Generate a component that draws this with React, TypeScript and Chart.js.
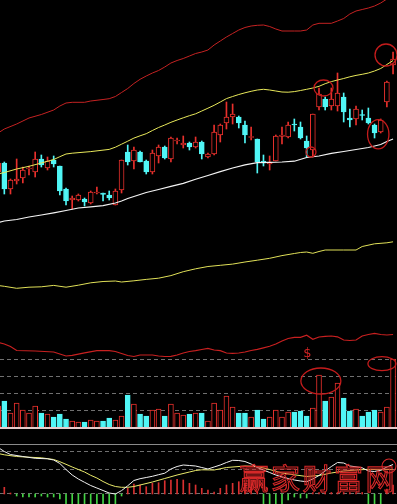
import React, { useEffect, useRef } from 'react';
import { Chart, registerables } from 'chart.js';

Chart.register(...registerables);

// ---------- candles (index 0..64) ----------
const openP = [42.8,43.7,41.1,41.9,42.2,43.1,42.8,44.1,43.2,44.0, 43.4,41.1,40.0,40.0,40.1,39.7,40.7,40.7,40.5,39.5, 41.0,44.8,43.9,44.8,43.9,42.8,44.4,45.3,44.1,45.9, 45.5,45.7,45.3,45.8,44.3,44.6,46.5,47.7,48.3,48.3, 47.5,46.25,46.1,43.9,43.6,43.9,46.35,46.3,47.6,47.3, 45.9,45.0,49.3,50.1,49.4,49.4,50.3,48.2,48.1,48.55, 48.2,47.5,46.8,49.8,53.5];
const highP = [44.0,43.8,42.1,44.1,43.3,43.4,44.8,44.5,44.3,44.4, 43.4,41.2,40.4,40.6,40.2,40.9,41.3,40.7,40.9,41.1, 44.0,45.5,45.3,44.9,44.0,45.0,45.5,45.4,46.3,46.2, 46.4,45.8,46.3,45.9,44.7,47.5,47.6,49.8,49.6,48.4, 47.9,47.3,46.1,44.5,44.4,46.5,47.3,47.8,48.1,47.8, 46.4,48.6,51.2,50.3,51.2,52.7,50.7,49.1,49.4,49.0, 49.2,47.6,48.1,51.9,54.8];
const lowP = [42.5,40.6,40.6,41.6,41.7,42.5,42.3,43.3,43.0,43.3, 40.5,39.5,39.1,39.9,39.4,39.6,40.6,39.9,40.0,39.5, 40.7,43.5,43.1,43.8,42.6,42.6,43.7,44.1,43.8,45.6, 45.2,45.0,45.2,44.1,44.2,44.5,45.8,47.1,47.6,47.2, 45.7,46.0,42.7,43.4,43.0,43.9,45.6,46.2,46.9,46.1, 44.3,44.3,49.0,49.0,49.0,48.9,47.8,47.3,47.5,48.0, 47.6,46.2,46.7,49.3,52.6];
const closeP = [43.7,41.1,42.0,42.1,43.0,43.2,44.1,43.5,43.9,43.6, 40.9,39.9,40.2,40.5,39.8,40.8,40.8,40.55,40.2,40.9, 44.0,43.8,45.0,43.8,42.8,44.7,45.3,44.2,46.2,46.0, 45.7,45.3,45.8,44.6,44.6,46.8,47.5,48.3,48.6,47.7, 46.5,46.35,43.8,43.7,43.8,46.4,46.5,47.5,47.5,46.2, 45.2,48.6,50.6,49.3,50.1,50.7,48.8,48.0,49.1,48.45, 47.7,46.7,48.0,51.8,54.1];

// ---------- price indicator lines (sampled at candle index) ----------
const upIdx = [0,1,3,5,7,9,10,11,12,14,15,17,18,19,20,21,22,23,24,25,26,27,28,29,30,31,32,33,34,35,36,37,38,39,40,41,42,43,44,45,46,48,49,50,51,52,54,55,56,57,58,59,60,61,62,63,64];
const upVal = [46.7,47.1,47.6,48.2,48.55,49.0,49.4,49.7,49.77,49.77,49.9,50.05,50.13,50.35,50.75,51.15,51.65,52.07,52.4,52.7,52.95,53.3,53.7,53.95,54.15,54.4,54.65,54.8,55.0,55.5,55.9,56.3,56.65,57.0,57.25,57.4,57.47,57.5,57.35,57.1,56.9,56.9,56.9,57.0,57.5,57.67,57.67,57.9,58.15,58.6,58.9,59.05,59.2,59.4,59.7,60.1,60.4];

const midIdx = [0,1,3,5,7,9,10,11,12,15,18,19,20,21,22,23,24,25,26,27,28,29,30,31,32,33,34,35,36,37,38,39,40,41,42,43,44,45,46,47,48,49,50,51,52,53,54,55,56,57,58,59,60,61,62,63,64];
const midVal = [42.6,42.75,43.1,43.37,43.7,44.05,44.33,44.6,44.68,44.84,45.06,45.28,45.58,45.88,46.19,46.42,46.63,46.95,47.25,47.5,47.77,48.0,48.22,48.43,48.62,48.9,49.18,49.47,49.8,50.14,50.35,50.55,50.72,50.87,51.0,51.07,51.0,50.9,50.8,50.78,50.84,50.95,51.07,51.2,51.37,51.63,51.84,52.0,52.15,52.32,52.46,52.57,52.7,52.9,53.15,53.55,53.95];

const lowIdx = [0,1,3,5,7,9,11,13,15,17,19,20,21,22,24,26,28,30,32,34,36,38,40,42,44,46,48,50,52,54,56,58,60,61,62,63,64];
const lowVal = [37.75,37.9,38.05,38.3,38.5,38.72,38.95,39.2,39.32,39.43,39.7,39.9,40.15,40.35,40.75,41.05,41.37,41.67,42.07,42.45,42.84,43.2,43.52,43.74,43.77,43.8,43.88,44.25,44.4,44.67,44.85,45.05,45.25,45.4,45.55,45.85,46.1];

const maIdx = [0,1,3,5,7,9,11,13,15,17,19,20,22,24,26,28,30,32,34,36,38,40,42,44,46,48,49,50,51,52,53,56,58,59,61,63,64];
const maVal = [31.45,31.37,31.17,31.28,31.32,31.46,31.28,31.48,31.72,31.85,31.9,31.8,31.92,32.06,32.18,32.44,32.83,33.12,33.35,33.47,33.59,33.8,33.98,34.17,34.44,34.65,34.75,34.8,34.67,34.85,35.0,35.0,35.0,35.35,35.62,35.72,35.82];

// ---------- volume ----------
const volume = [22,27,15,25,18,15,22,15,14,11, 14,9,7,6,6,8,7,7,10,8, 12,33,24,14,12,18,19,12,24,15, 13,14,15,15,7,25,18,32,21,15, 15,11,18,9,11,18,11,16,16,17, 12,20,53,27,31,45,30,17,19,12, 16,18,16,21,69];
const volMaIdx = [0,1,2,3,6,9,10,11,12,14,16,18,19,20,21,22,23,25,26,27,28,29,30,31,32,33,34,35,36,37,38,39,40,41,42,43,44,45,46,47,48,49,50,51,52,53,54,55,56,57,58,59,60,61,62,63,64];
const volMaVal = [85.5,84,81.5,77.5,77,76,74,72,72.7,75.2,77.3,77.3,76.5,74.5,72.5,71.5,73,73,72,71.5,71.7,73,75,76.5,77.3,78.5,79.7,78,77.3,75,74.7,75,76,77.5,78.7,80.2,81.7,84,87,89.5,90.7,90.7,92.8,88.7,91,91.7,92,91.2,88,87.5,88,92,93.5,94.7,93.5,93,93.5];
const volGrid = [17.7, 34.7, 51.7, 68.7];

// ---------- MACD ----------
const macdHist = [0.06,0.067,0.005,-0.02,-0.03,-0.03,-0.03,-0.02,-0.03,-0.03, -0.05,-0.10,-0.14,-0.16,-0.17,-0.17,-0.16,-0.15,-0.13,-0.10, -0.02,0.057,0.10,0.09,0.073,0.107,0.113,0.133,0.14,0.147, 0.14,0.107,0.09,0.057,0.04,0.02,0.057,0.09,0.107,0.123, 0.11,0.07,0.02,-0.10,-0.10,-0.10,-0.10,-0.06,-0.03,-0.04, -0.04,0.015,0.015,0.015,0.015,0.015,0.015,0.015,0.015,0.015, -0.10,-0.10,-0.10,0.05,0.09];
const difIdx = [0,1,2,4,6,8,9,10,11,12,13,14,15,16,17,18,19,20,21,22,23,24,25,26,27,28,29,30,31,32,33,34,35,36,37,38,39,40,41,42,43,44,45,46,47,48,49,50,51,52,53,54,55,56,57,58,59,60,61,62,63,64];
const difVal = [0.465,0.425,0.395,0.375,0.357,0.352, 0.34,0.305,0.245,0.19,0.15,0.117,0.085,0.06,0.035,0.01, 0.0,0.034,0.082,0.135,0.153,0.165,0.177,0.193,0.208,0.25, 0.275,0.29,0.285,0.28,0.265,0.25,0.27,0.29,0.315,0.337, 0.335,0.325,0.30,0.265,0.24,0.215,0.19,0.17,0.155,0.14, 0.13,0.123,0.15,0.185,0.23,0.275,0.315,0.31,0.28,0.272, 0.262,0.23,0.225,0.237,0.27,0.295];
const deaIdx = [0,1,3,5,7,9,10,11,12,13,14,15,16,17,18,19,20,21,22,23,25,27,29,31,32,33,35,37,40,42,44,46,48,50,52,54,56,58,60,62,64];
const deaVal = [0.405,0.392,0.375,0.368,0.362,0.345,0.323,0.297,0.27,0.245,0.22,0.187,0.16,0.125,0.095,0.075,0.067,0.067,0.075,0.09,0.12,0.155,0.19,0.22,0.235,0.242,0.24,0.265,0.28,0.275,0.245,0.21,0.192,0.175,0.185,0.21,0.23,0.24,0.247,0.242,0.247];
const macdGrid = [0.43, 0.25, 0.01];
const macdTop = 0.5;

// ---------- hand-drawn marks (index, value, axis, rx, ry) ----------
const markK = [62.86, 52.73, 61.6, 50.7, 52.3, 62.2];
const markV = [54.5, 51.2, 46.57, 44.8, 47, 64.3];
const markAxis = ['yP', 'yP', 'yP', 'yP', 'yV', 'yV'];
const markRx = [11, 9.5, 10.7, 5, 20, 14];
const markRy = [11, 8, 14.6, 5, 13, 7];
const dollarK = 50.1;
const dollarV = 74;
const watermark = ['赢', '家', '财', '富', '网'];

const RED = '#e8302c';
const CYAN = '#50f6f6';

const pts = (xs: number[], ys: number[]) => xs.map((x, i) => ({ x, y: ys[i] }));
const isUp = (i: number) => closeP[i] >= openP[i];
const idx = openP.map((_, i) => i);

const overlay = {
  id: 'overlay',
  beforeDatasetsDraw(chart: any) {
    const { ctx, chartArea, scales } = chart;
    ctx.save();
    ctx.strokeStyle = '#707070';
    ctx.lineWidth = 1;
    ctx.setLineDash([4, 3]);
    const hl = (y: number) => {
      const yy = Math.round(y) + 0.5;
      ctx.beginPath();
      ctx.moveTo(chartArea.left, yy);
      ctx.lineTo(chartArea.right, yy);
      ctx.stroke();
    };
    volGrid.forEach((v) => hl(scales.yV.getPixelForValue(v)));
    macdGrid.forEach((v) => hl(scales.yM.getPixelForValue(v)));
    ctx.restore();
  },
  afterDatasetsDraw(chart: any) {
    const { ctx, chartArea, scales } = chart;
    ctx.save();
    const y0 = Math.round(scales.yV.getPixelForValue(0));
    ctx.fillStyle = '#e6cccc';
    ctx.fillRect(chartArea.left, y0 - 1, chartArea.right - chartArea.left, 2);
    const ys = Math.round(scales.yM.getPixelForValue(macdTop)) + 0.5;
    ctx.strokeStyle = '#8a8a8a';
    ctx.lineWidth = 1;
    ctx.beginPath();
    ctx.moveTo(chartArea.left, ys);
    ctx.lineTo(chartArea.right, ys);
    ctx.stroke();
    ctx.restore();
  },
  afterDraw(chart: any) {
    const { ctx, scales, chartArea } = chart;
    ctx.save();
    ctx.strokeStyle = '#c41c1c';
    ctx.lineWidth = 1.3;
    markK.forEach((k, i) => {
      const x = scales.x.getPixelForValue(k);
      const y = scales[markAxis[i]].getPixelForValue(markV[i]);
      ctx.beginPath();
      ctx.ellipse(x, y, markRx[i], markRy[i], 0, 0, Math.PI * 2);
      ctx.stroke();
    });
    ctx.fillStyle = '#d42424';
    ctx.font = '13px "DejaVu Sans"';
    ctx.textAlign = 'center';
    ctx.textBaseline = 'middle';
    ctx.fillText('$', scales.x.getPixelForValue(dollarK), scales.yV.getPixelForValue(dollarV));
    // watermark
    ctx.strokeStyle = '#d62828';
    ctx.lineWidth = 1.1;
    ctx.font = '29px "Noto Sans CJK SC"';
    const wx = chartArea.right - 143;
    const wy = chartArea.bottom - 25;
    watermark.forEach((c, i) => ctx.strokeText(c, wx + i * 31.5, wy));
    ctx.beginPath();
    ctx.arc(chartArea.right - 8, chartArea.bottom - 38, 7, 0, Math.PI * 2);
    ctx.stroke();
    ctx.restore();
  },
};

export default function App() {
  const ref = useRef<HTMLCanvasElement>(null);
  useEffect(() => {
    document.body.style.margin = '0';
    document.body.style.background = '#000';
    const chart = new Chart(ref.current as HTMLCanvasElement, {
      type: 'bar',
      data: {
        datasets: [
          {
            type: 'bar', label: 'wick', xAxisID: 'x', yAxisID: 'yP', order: 10,
            data: idx.map((k) => ({ x: k, y: [lowP[k], highP[k]] })) as any,
            backgroundColor: (c: any) => (isUp(c.dataIndex) ? RED : CYAN),
            barThickness: 1, grouped: false, borderWidth: 0, minBarLength: 1,
          },
          {
            type: 'bar', label: 'body', xAxisID: 'x', yAxisID: 'yP', order: 9,
            data: idx.map((k) => ({ x: k, y: [openP[k], closeP[k]] })) as any,
            backgroundColor: (c: any) => (isUp(c.dataIndex) ? '#000' : CYAN),
            borderColor: (c: any) => (isUp(c.dataIndex) ? RED : CYAN),
            borderWidth: 1, borderSkipped: false, barThickness: 5, grouped: false, minBarLength: 1,
          },
          {
            type: 'bar', label: 'volume', xAxisID: 'x', yAxisID: 'yV', order: 9,
            data: idx.map((k) => ({ x: k, y: volume[k] })) as any,
            backgroundColor: (c: any) => (isUp(c.dataIndex) ? '#000' : CYAN),
            borderColor: (c: any) => (isUp(c.dataIndex) ? RED : CYAN),
            borderWidth: 1, borderSkipped: false, barThickness: 5, grouped: false,
          },
          {
            type: 'bar', label: 'macd', xAxisID: 'x', yAxisID: 'yM', order: 9,
            data: idx.map((k) => ({ x: k, y: macdHist[k] })) as any,
            backgroundColor: (c: any) => (macdHist[c.dataIndex] >= 0 ? '#d83030' : '#44d444'),
            barThickness: 1, grouped: false, borderWidth: 0, minBarLength: 1,
          },
          { type: 'line', label: 'upper', yAxisID: 'yP', xAxisID: 'x', order: 1, data: pts(upIdx, upVal) as any, borderColor: '#c42222', borderWidth: 1, pointRadius: 0, tension: 0 },
          { type: 'line', label: 'mid', yAxisID: 'yP', xAxisID: 'x', order: 1, data: pts(midIdx, midVal) as any, borderColor: '#e8e85a', borderWidth: 1, pointRadius: 0, tension: 0 },
          { type: 'line', label: 'lower', yAxisID: 'yP', xAxisID: 'x', order: 1, data: pts(lowIdx, lowVal) as any, borderColor: '#f4f4f4', borderWidth: 1.2, pointRadius: 0, tension: 0 },
          { type: 'line', label: 'ma', yAxisID: 'yP', xAxisID: 'x', order: 1, data: pts(maIdx, maVal) as any, borderColor: '#e0e058', borderWidth: 1, pointRadius: 0, tension: 0 },
          { type: 'line', label: 'volma', yAxisID: 'yV', xAxisID: 'x', order: 1, data: pts(volMaIdx, volMaVal) as any, borderColor: '#c82020', borderWidth: 1.2, pointRadius: 0, tension: 0 },
          { type: 'line', label: 'dif', yAxisID: 'yM', xAxisID: 'x', order: 1, data: pts(difIdx, difVal) as any, borderColor: '#f0f0f0', borderWidth: 1, pointRadius: 0, tension: 0 },
          { type: 'line', label: 'dea', yAxisID: 'yM', xAxisID: 'x', order: 1, data: pts(deaIdx, deaVal) as any, borderColor: '#e8e86a', borderWidth: 1, pointRadius: 0, tension: 0 },
        ] as any,
      },
      options: {
        animation: false,
        responsive: false,
        devicePixelRatio: 1,
        events: [],
        layout: { padding: 0 },
        plugins: { legend: { display: false }, tooltip: { enabled: false }, title: { display: false } },
        scales: {
          x: { type: 'linear', min: 0.3, max: 64.64, offset: false, display: false },
          yP: { type: 'linear', min: 9.6, max: 60, display: false },
          yV: { type: 'linear', min: -76, max: 428, display: false },
          yM: { type: 'linear', min: -0.1, max: 4.94, display: false },
        },
      } as any,
      plugins: [overlay],
    });
    return () => chart.destroy();
  }, []);
  return (
    <div style={{ position: 'fixed', left: 0, top: 0, width: 397, height: 504, background: '#000' }}>
      <canvas ref={ref} width={397} height={504} style={{ display: 'block', width: 397, height: 504 }} />
    </div>
  );
}
